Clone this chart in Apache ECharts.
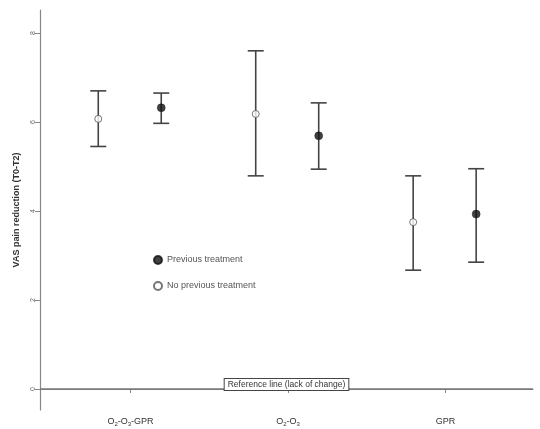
<!DOCTYPE html>
<html>
<head>
<meta charset="utf-8">
<script src="https://cdn.jsdelivr.net/npm/echarts@6/dist/echarts.min.js"></script>
<style>html,body{margin:0;padding:0;background:#fff}#c{width:540px;height:429px}</style>
</head>
<body>
<div id="c"></div>
<script>
var categories = ['O{sub|2}-O{sub|3}-GPR', 'O{sub|2}-O{sub|3}', 'GPR'];
var yTicks = [0, 2, 4, 6, 8];
var prevMean = [6.32, 5.69, 3.93];
var prevLow = [5.97, 4.94, 2.85];
var prevHigh = [6.65, 6.43, 4.95];
var noPrevMean = [6.07, 6.18, 3.75];
var noPrevLow = [5.45, 4.79, 2.67];
var noPrevHigh = [6.70, 7.60, 4.79];
var seriesNames = ['Previous treatment', 'No previous treatment'];
var offPrev = 0.195, offNoPrev = -0.205;

function pts(mean, off) { return mean.map(function (v, i) { return [i + 1 + off, v]; }); }
function bars(low, high, off) { return low.map(function (v, i) { return [i + 1 + off, v, high[i]]; }); }

function renderBar(params, api) {
  var x = api.value(0);
  var lo = api.coord([x, api.value(1)]);
  var hi = api.coord([x, api.value(2)]);
  var w = 8;
  var st = { stroke: '#444', lineWidth: 1.6 };
  return { type: 'group', children: [
    { type: 'line', shape: { x1: lo[0], y1: lo[1], x2: hi[0], y2: hi[1] }, style: st },
    { type: 'line', shape: { x1: lo[0] - w, y1: lo[1], x2: lo[0] + w, y2: lo[1] }, style: st },
    { type: 'line', shape: { x1: hi[0] - w, y1: hi[1], x2: hi[0] + w, y2: hi[1] }, style: st }
  ]};
}

var chart = echarts.init(document.getElementById('c'));
chart.setOption({
  animation: false,
  backgroundColor: '#fff',
  grid: { left: 40, right: 7, top: 10, bottom: 19 },
  legend: {
    orient: 'vertical', left: 148, top: 250, itemGap: 16,
    itemWidth: 8, itemHeight: 8,
    textStyle: { fontSize: 9, color: '#555', fontFamily: 'Liberation Sans' },
    data: [
      { name: seriesNames[0], icon: 'circle' },
      { name: seriesNames[1], icon: 'circle' }
    ]
  },
  xAxis: {
    type: 'value', min: 0.425, max: 3.556,
    splitLine: { show: false },
    axisLine: { lineStyle: { color: '#888', width: 1.2 } },
    axisTick: { customValues: [1, 2, 3], length: 4, lineStyle: { color: '#888' } },
    axisLabel: {
      customValues: [1, 2, 3], margin: 7,
      formatter: function (v) { return categories[Math.round(v) - 1] || ''; },
      fontSize: 9, color: '#333', fontFamily: 'Liberation Sans',
      rich: { sub: { fontSize: 6, verticalAlign: 'bottom', padding: [4, 0, 0, 0], color: '#333' } }
    }
  },
  yAxis: {
    type: 'value', min: -0.472, max: 8.517,
    splitLine: { show: false },
    axisLine: { show: true, lineStyle: { color: '#888', width: 1.2 } },
    axisTick: { show: true, customValues: yTicks, length: 5, lineStyle: { color: '#888' } },
    axisLabel: { customValues: yTicks, rotate: 90, fontSize: 7, color: '#666', margin: 3, fontFamily: 'Liberation Sans' },
    name: 'VAS pain reduction (T0-T2)', nameLocation: 'middle', nameGap: 19,
    nameTextStyle: { fontSize: 9, fontWeight: 'bold', color: '#333', fontFamily: 'Liberation Sans' }
  },
  series: [
    { type: 'custom', renderItem: renderBar, data: bars(prevLow, prevHigh, offPrev), z: 2, silent: true },
    { type: 'custom', renderItem: renderBar, data: bars(noPrevLow, noPrevHigh, offNoPrev), z: 2, silent: true },
    {
      name: seriesNames[0], type: 'scatter', data: pts(prevMean, offPrev), symbol: 'circle', symbolSize: 8, z: 3,
      itemStyle: { color: '#111', borderColor: '#111', borderWidth: 0.5 },
      markLine: {
        silent: true, symbol: 'none',
        lineStyle: { color: '#777', width: 1.5, type: 'solid' },
        label: {
          formatter: 'Reference line (lack of change)', position: 'middle', distance: -1,
          fontSize: 8.5, color: '#333', fontFamily: 'Liberation Sans',
          borderColor: '#444', borderWidth: 1, backgroundColor: '#fff', padding: [1, 3]
        },
        data: [{ yAxis: 0 }]
      }
    },
    {
      name: seriesNames[1], type: 'scatter', data: pts(noPrevMean, offNoPrev), symbol: 'circle', symbolSize: 7, z: 3,
      itemStyle: { color: '#fff', borderColor: '#555', borderWidth: 1 }
    }
  ]
});
</script>
</body>
</html>
